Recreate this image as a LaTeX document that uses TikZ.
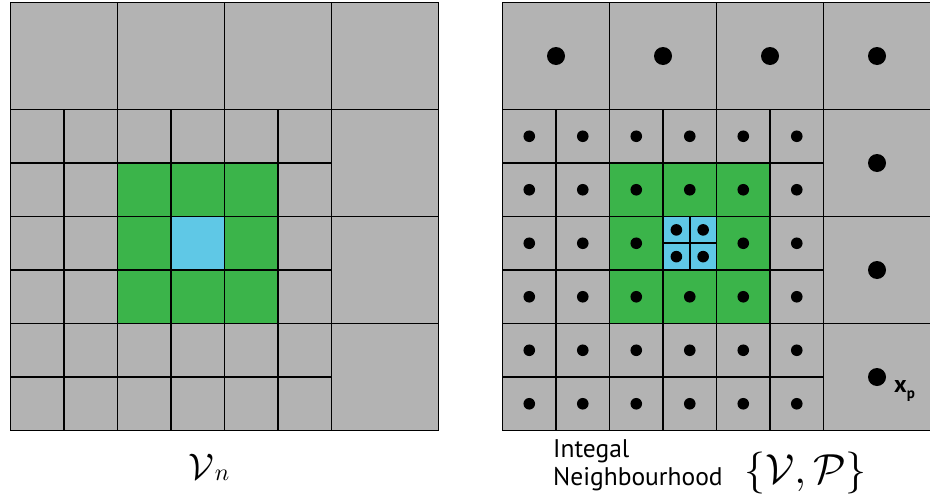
\documentclass[tikz,border=0pt]{standalone}
\usepackage{graphicx}
\usepackage{fontspec}
\newfontfamily\labfont{PT Sans}
\definecolor{cellgray}{RGB}{179,179,179}
\definecolor{cellgreen}{RGB}{59,180,74}
\definecolor{cellcyan}{RGB}{95,200,230}
\tikzset{
  gridline/.style={black,line width=1.6pt},
  quadgrid/.pic={
    \fill[cellgray] (0,0) rectangle (428,428);
    \fill[cellgreen] (107,160.5) rectangle (267.5,321);
    \fill[cellcyan] (160.5,214) rectangle (214,267.5);
    \foreach \x in {107,214,321} \draw[gridline] (\x,0) -- (\x,107);
    \foreach \k in {1,...,5} \draw[gridline] ({53.5*\k},107) -- ({53.5*\k},428);
    \draw[gridline] (321,107) -- (321,428);
    \foreach \i in {1,...,5} \draw[gridline] (0,{107+53.5*\i}) -- (321,{107+53.5*\i});
    \foreach \y in {107,214,321} \draw[gridline] (0,\y) -- (428,\y);
    \draw[gridline] (0,0) rectangle (428,428);
  }
}
\begin{document}
\begin{tikzpicture}[x=1pt,y=-1pt]
\useasboundingbox (0,0) rectangle (930,498);
% left grid
\pic at (10.5,2.5) {quadgrid};
% right grid
\pic at (502.5,2.5) {quadgrid};
\begin{scope}[shift={(502.5,2.5)}]
  % cyan subdivision
  \draw[gridline] (187.25,214) -- (187.25,267.5);
  \draw[gridline] (160.5,240.75) -- (214,240.75);
  % big dots
  \foreach \k in {0,...,3} \fill ({53.5+107*\k},53.5) circle[radius=9pt];
  \foreach \y in {160.5,267.5,374.5} \fill (374.5,\y) circle[radius=9pt];
  % small dots
  \foreach \c in {0,...,5} {
    \foreach \r in {0,...,5} {
      \ifnum\c=3 \ifnum\r=2 \else \fill ({26.75+53.5*\c},{133.75+53.5*\r}) circle[radius=5.8pt];\fi
      \else \fill ({26.75+53.5*\c},{133.75+53.5*\r}) circle[radius=5.8pt];\fi
    }
  }
  % cyan quadrant dots
  \foreach \x in {173.875,200.625} \foreach \y in {227.375,254.125}
    \fill (\x,\y) circle[radius=5.8pt];
\end{scope}
% labels
\node[anchor=base west,inner sep=0pt] (xp) at (894,392)
  {\labfont\bfseries\fontsize{24}{24}\selectfont x\raisebox{-6pt}{\fontsize{15}{15}\selectfont p}};
\node[anchor=base west,inner sep=0pt] (vn) at (188,479)
  {\scalebox{3.7}{$\mathcal{V}$}\hspace{1pt}\raisebox{-1pt}{\scalebox{2.4}{$n$}}};
\node[anchor=base west,inner sep=0pt] (integ) at (553,457.5)
  {\labfont\fontsize{25.5}{25.5}\selectfont Integal};
\node[anchor=base west,inner sep=0pt] (neigh) at (553,485.5)
  {\labfont\fontsize{25.5}{25.5}\selectfont Neighbourhood};
\node[anchor=base west,inner sep=0pt] (vp) at (744,483)
  {\scalebox{4.2}{$\{\mathcal{V},\mathcal{P}\}$}};
\end{tikzpicture}
\end{document}
